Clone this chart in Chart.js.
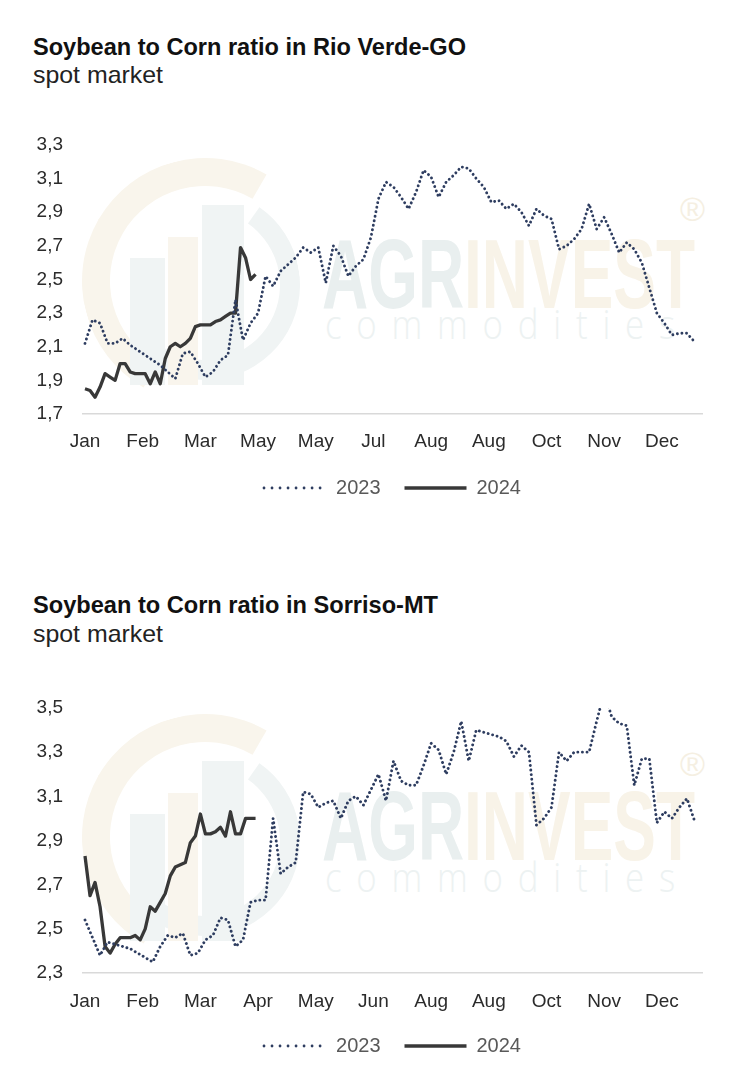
<!DOCTYPE html>
<html><head><meta charset="utf-8">
<script src="https://cdn.jsdelivr.net/npm/chart.js@4.4.1/dist/chart.umd.min.js"></script>
<style>
html,body{margin:0;padding:0;background:#fff;}
#page{position:relative;width:742px;height:1072px;overflow:hidden;font-family:"Liberation Sans",Arial,sans-serif;}
.title{position:absolute;left:33px;font-weight:bold;font-size:24px;line-height:24px;color:#111;white-space:nowrap;transform-origin:0 0;}
.sub{position:absolute;left:33px;font-size:24px;line-height:24px;color:#222;white-space:nowrap;transform-origin:0 0;}
.wm{position:absolute;white-space:nowrap;transform-origin:0 0;font-weight:bold;line-height:1;font-size:98px;}
.wm2{position:absolute;white-space:nowrap;transform-origin:0 0;line-height:1;color:#edf2f2;font-family:"Open Sans",sans-serif;font-weight:300;font-size:40px;letter-spacing:17px;}
.reg{position:absolute;font-size:34px;color:#f5efe2;font-family:Arial,sans-serif;}
.logo{position:absolute;left:0;width:742px;height:300px;}
.ring{position:absolute;border-radius:50%;border-style:solid;border-color:transparent;box-sizing:border-box;}
.bar{position:absolute;}
canvas{position:absolute;left:0;}
</style></head>
<body><div id="page">
<div class="title" id="t1" style="top:35px">Soybean to Corn ratio in Rio Verde-GO</div>
<div class="sub" id="s1" style="top:63px">spot market</div>

<div class="logo" style="top:140px">
  <div class="ring" style="left:82px;top:18px;width:246px;height:246px;border-width:28px;border-left-color:#f9f5ec;border-top-color:#f9f5ec;transform:rotate(-15deg)"></div>
  <div class="ring" style="left:110px;top:50px;width:190px;height:190px;border-width:20px;border-right-color:#f0f4f4;border-bottom-color:#f0f4f4;transform:rotate(-10deg)"></div>
  <div class="bar" style="left:130px;top:118px;width:35px;height:127px;background:#f0f4f4"></div>
  <div class="bar" style="left:168px;top:97px;width:30px;height:148px;background:#f9f5ed"></div>
  <div class="bar" style="left:202px;top:65px;width:42px;height:180px;background:#f0f4f4"></div>
</div>
<div class="wm" id="wm1" style="left:322px;top:225px"><span style="color:#e9efef">AGR</span><span style="color:#f8f3e8">INVEST</span></div>
<div class="wm2" id="wc1" style="left:325px;top:304px">commodities</div>
<div class="reg" style="left:680px;top:190px">®</div>
<canvas id="c1" width="742" height="400" style="top:110px"></canvas>

<div class="title" id="t2" style="top:593px">Soybean to Corn ratio in Sorriso-MT</div>
<div class="sub" id="s2" style="top:622px">spot market</div>
<div class="logo" style="top:696px">
  <div class="ring" style="left:82px;top:18px;width:246px;height:246px;border-width:28px;border-left-color:#f9f5ec;border-top-color:#f9f5ec;transform:rotate(-15deg)"></div>
  <div class="ring" style="left:110px;top:50px;width:190px;height:190px;border-width:20px;border-right-color:#f0f4f4;border-bottom-color:#f0f4f4;transform:rotate(-10deg)"></div>
  <div class="bar" style="left:130px;top:118px;width:35px;height:127px;background:#f0f4f4"></div>
  <div class="bar" style="left:168px;top:97px;width:30px;height:148px;background:#f9f5ed"></div>
  <div class="bar" style="left:202px;top:65px;width:42px;height:180px;background:#f0f4f4"></div>
</div>
<div class="wm" id="wm2" style="left:322px;top:777px"><span style="color:#e9efef">AGR</span><span style="color:#f8f3e8">INVEST</span></div>
<div class="wm2" id="wc2" style="left:325px;top:857px">commodities</div>
<div class="reg" style="left:680px;top:745px">®</div>
<canvas id="c2" width="742" height="400" style="top:670px"></canvas>
</div>
<script>
// ---- data ----
const STEP_2023 = 3;   // trading days between samples
const STEP_2024 = 2;
const LABEL_EVERY = 23; // category label interval (trading days)
const xTickLabels1 = ["Jan","Feb","Mar","May","May","Jul","Aug","Aug","Oct","Nov","Dec"];
const xTickLabels2 = ["Jan","Feb","Mar","Apr","May","Jun","Aug","Aug","Oct","Nov","Dec"];
const yTicks1 = [1.7,1.9,2.1,2.3,2.5,2.7,2.9,3.1,3.3];
const yTicks2 = [2.3,2.5,2.7,2.9,3.1,3.3,3.5];
const seriesNames = ["2023","2024"];

const rio2023 = [2.12,2.26,2.24,2.12,2.12,2.15,2.11,2.08,2.05,2.02,1.99,1.95,1.91,2.06,2.07,2.00,1.92,1.95,2.02,2.05,
  2.38,2.14,2.24,2.30,2.52,2.46,2.55,2.59,2.63,2.69,2.66,2.69,2.48,2.70,2.64,2.52,2.58,2.62,2.75,2.98,
  3.08,3.05,2.99,2.92,3.02,3.15,3.11,2.99,3.08,3.12,3.17,3.16,3.10,3.05,2.96,2.97,2.92,2.95,2.90,2.82,
  2.92,2.88,2.86,2.68,2.70,2.74,2.80,2.95,2.80,2.87,2.77,2.66,2.72,2.68,2.60,2.45,2.30,2.24,2.17,2.18,
  2.18,2.13];
const rio2024 = [1.85,1.84,1.80,1.86,1.94,1.92,1.90,2.00,2.00,1.95,1.94,1.94,1.94,1.88,1.95,1.88,2.03,2.10,2.12,2.10,
  2.12,2.15,2.22,2.23,2.23,2.23,2.25,2.26,2.28,2.30,2.30,2.69,2.63,2.50,2.53];
const sor2023 = [2.54,2.46,2.38,2.44,2.43,2.42,2.41,2.39,2.37,2.35,2.42,2.47,2.46,2.48,2.38,2.39,2.45,2.47,2.55,2.54,
  2.42,2.45,2.62,2.63,2.63,3.00,2.75,2.78,2.80,3.12,3.11,3.05,3.07,3.08,3.00,3.08,3.10,3.06,3.13,3.20,
  3.08,3.26,3.17,3.15,3.15,3.24,3.34,3.31,3.20,3.30,3.44,3.26,3.40,3.39,3.38,3.37,3.35,3.28,3.33,3.30,
  2.97,3.00,3.05,3.30,3.26,3.30,3.30,3.30,3.44,3.57,3.46,3.43,3.42,3.15,3.27,3.27,2.98,3.03,3.00,3.05,
  3.09,2.99];
const sor2024 = [2.83,2.65,2.71,2.60,2.42,2.39,2.43,2.46,2.46,2.46,2.47,2.45,2.50,2.60,2.58,2.62,2.66,2.74,2.78,2.79,
  2.80,2.89,2.92,3.02,2.93,2.93,2.94,2.96,2.92,3.03,2.93,2.93,3.00,3.00,3.00];

const FONT = '"Liberation Sans",Arial,sans-serif';
const C2023 = '#2e3d60', C2024 = '#383838';

function fitWidth(id, target){
  const el = document.getElementById(id);
  const w = el.getBoundingClientRect().width;
  el.style.transform = 'scaleX(' + (target / w) + ')';
}
fitWidth('t1',433); fitWidth('s1',130); fitWidth('t2',405); fitWidth('s2',130);
fitWidth('wm1',373); fitWidth('wm2',373); fitWidth('wc1',365); fitWidth('wc2',365);

function makeChart(id, d23, d24, xLabels, yTicks, pad, xHeight, xPad){
  const toPts = (arr, step) => arr.map((v,i)=>({x:i*step, y:v}));
  return new Chart(document.getElementById(id), {
    type:'line',
    data:{datasets:[
      {label:seriesNames[0], data:toPts(d23, STEP_2023), borderColor:C2023, backgroundColor:C2023,
       borderWidth:2.9, borderDash:[0.01,4.6], borderCapStyle:'round', pointRadius:0, tension:0, pointStyle:'line'},
      {label:seriesNames[1], data:toPts(d24, STEP_2024), borderColor:C2024, backgroundColor:C2024,
       borderWidth:3.3, borderJoinStyle:'round', pointRadius:0, tension:0, pointStyle:'line'}
    ]},
    options:{
      responsive:false, animation:false, devicePixelRatio:1,
      layout:{padding:pad},
      plugins:{
        legend:{position:'bottom', fullSize:false,
          labels:{usePointStyle:true, pointStyle:'line', pointStyleWidth:62,
          font:{family:FONT,size:20}, color:'#595959', padding:24,
          generateLabels:(chart)=>{
            const items = Chart.defaults.plugins.legend.labels.generateLabels(chart);
            items[0].lineDash = [0.01, 8]; items[0].lineCap = 'round'; items[0].lineWidth = 2.8;
            items[0].strokeStyle = C2023;
            items[1].lineDash = []; items[1].lineCap = 'butt'; items[1].lineWidth = 3.3;
            items[1].strokeStyle = C2024;
            return items;
          }}},
        tooltip:{enabled:false}
      },
      scales:{
        x:{type:'linear', min:-0.8, max:246,
          afterBuildTicks:a=>{a.ticks = xLabels.map((_,k)=>({value:k*LABEL_EVERY}));},
          afterFit:a=>{a.height = xHeight;},
          ticks:{callback:(v,i)=>xLabels[i], autoSkip:false, maxRotation:0, padding:xPad,
            font:{family:FONT,size:19}, color:'#2b2b2b'},
          grid:{display:false, drawTicks:false},
          border:{display:true, color:'#d9d9d9', width:1.5}},
        y:{min:yTicks[0], max:yTicks[yTicks.length-1],
          afterBuildTicks:a=>{a.ticks = yTicks.map(v=>({value:v}));},
          afterFit:a=>{a.width = 83;},
          ticks:{callback:v=>Number(v).toFixed(1).replace('.',','), padding:20,
            font:{family:FONT,size:19}, color:'#2b2b2b'},
          grid:{display:false, drawTicks:false},
          border:{display:false}}
      }
    }
  });
}
makeChart('c1', rio2023, rio2024, xTickLabels1, yTicks1, {left:0,right:40,top:35,bottom:2}, 40, 16);
makeChart('c2', sor2023, sor2024, xTickLabels2, yTicks2, {left:0,right:40,top:38,bottom:4}, 39, 17);
</script>
</body></html>
